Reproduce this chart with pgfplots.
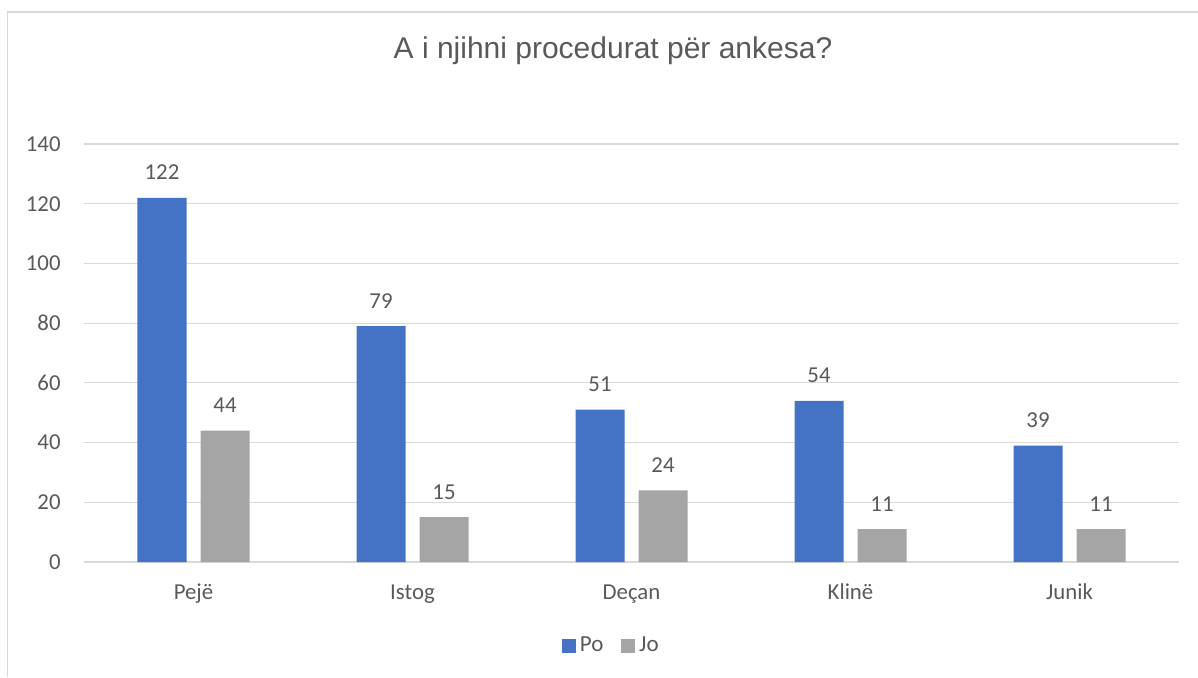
\documentclass[border=0pt]{standalone}
\usepackage{fontspec}
\setmainfont{Carlito}
\newfontfamily\titlefont{Liberation Sans}
\usepackage{pgfplots}
\pgfplotsset{compat=1.18}
\definecolor{po}{HTML}{4472C4}
\definecolor{jo}{HTML}{A5A5A5}
\definecolor{txt}{HTML}{595959}
\definecolor{gridc}{HTML}{D9D9D9}

\pgfplotstableread{
x po jo
0 122 44
1 79 15
2 51 24
3 54 11
4 39 11
}\ankesa

\begin{document}
\begin{tikzpicture}
\useasboundingbox (0,0) rectangle (599pt,-338.5pt);
\draw[gridc, line width=0.8pt] (3.75pt,-338.5pt) -- (3.75pt,-6pt) -- (599pt,-6pt);
\node[font=\titlefont\fontsize{15}{17}\selectfont, text=txt, anchor=base]
  at (306.5pt,-29pt) {A i njihni procedurat për ankesa?};
\begin{axis}[
  at={(42pt,-281pt)}, anchor=south west,
  scale only axis, width=547.5pt, height=209pt,
  ybar=7pt, bar width=24.5pt,
  xmin=-0.5, xmax=4.5, ymin=0, ymax=140,
  xtick=data, xticklabels={Pejë,Istog,Deçan,Klinë,Junik},
  ytick={0,20,...,140},
  major tick length=0pt,
  axis line style={draw=none},
  ymajorgrids, grid style={gridc, line width=0.6pt},
  tick label style={font=\fontsize{11.4}{13}\selectfont, text=txt},
  /pgf/number format/assume math mode=true,
  yticklabel style={anchor=east, inner sep=0pt, xshift=-11.5pt},
  xticklabel style={anchor=base, inner sep=0pt, yshift=-18.5pt},
  nodes near coords,
  nodes near coords style={font=\fontsize{11.4}{13}\selectfont, text=txt,
    anchor=base, inner sep=0pt, yshift=9pt},
  legend columns=2,
  legend style={at={(0.4826,-0.201)}, anchor=center, draw=none,
    font=\fontsize{11.5}{13}\selectfont, text=txt,
    /tikz/every even column/.append style={column sep=7pt}},
  legend image code/.code={\fill[#1] (0pt,-3.4pt) rectangle (6.85pt,3.45pt);},
]
\addplot[fill=po, draw=none] table[x=x, y=po] {\ankesa};
\addlegendentry{Po}
\addplot[fill=jo, draw=none] table[x=x, y=jo] {\ankesa};
\addlegendentry{Jo}
\end{axis}
\end{tikzpicture}
\end{document}
